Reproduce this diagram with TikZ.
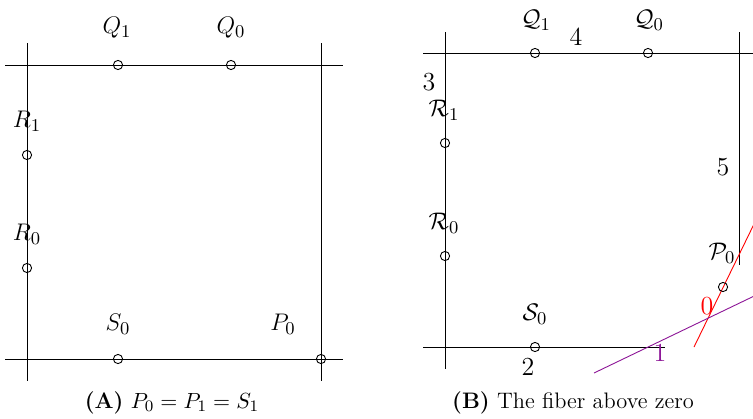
\documentclass[tikz,border=0pt]{standalone}
\usepackage{amsmath,amssymb}
\usepackage{tikz}
\usetikzlibrary{positioning}
\definecolor{zerocol}{RGB}{255,0,0}
\definecolor{onecol}{RGB}{140,20,150}
\tikzset{
  edge/.style={line width=0.45pt, draw=black},
  zeroline/.style={line width=0.45pt, draw=zerocol},
  oneline/.style={line width=0.45pt, draw=onecol},
  dotmark/.style={circle, draw, line width=0.45pt, inner sep=0pt, minimum size=4.6pt},
  ptlabel/.style={inner sep=0pt, font=\fontsize{13}{15}\selectfont},
  caption/.style={inner sep=0pt, font=\fontsize{11.2}{13}\selectfont}
}

\begin{document}
\begin{tikzpicture}[x=0.5pt,y=-0.5pt]
  \useasboundingbox (0,0) rectangle (753,418);
  \clip (0,0) rectangle (753,418);

  % (A) the four fibre lines
  \coordinate (aT-w) at (5,65);    \coordinate (aT-e) at (343,65);
  \coordinate (aB-w) at (5,359);   \coordinate (aB-e) at (343,359);
  \coordinate (aL-n) at (27,43);   \coordinate (aL-s) at (27,381);
  \coordinate (aR-n) at (321,43);  \coordinate (aR-s) at (321,381);
  \draw[edge] (aT-w) -- (aT-e);
  \draw[edge] (aB-w) -- (aB-e);
  \draw[edge] (aL-n) -- (aL-s);
  \draw[edge] (aR-n) -- (aR-s);

  \foreach \n/\x/\y in {aQ1/118/65, aQ0/231/65, aR1/27/155, aR0/27/268, aS0/118/359, aP0/321/359}
    \node[dotmark] (\n) at (\x,\y) {};

  \foreach \n/\x/\y/\t in {
      lQ1/117/28/{$Q_1$},
      lQ0/231/28/{$Q_0$},
      lR1/27/121/{$R_1$},
      lR0/27/234/{$R_0$},
      lS0/118/324/{$S_0$},
      lP0/283/324/{$P_0$}}
    \node[ptlabel] (\n) at (\x,\y) {\t};

  \node[caption] (capA) at (172,403) {\textbf{(A)} $P_0=P_1=S_1$};

  % (B) the fiber above zero
  \coordinate (bT-w) at (423,53);  \coordinate (bT-e) at (770,53);
  \coordinate (bB-w) at (423,347); \coordinate (bB-e) at (665,347);
  \coordinate (bL-n) at (445,32);  \coordinate (bL-s) at (445,369);
  \coordinate (bR-n) at (739,32);  \coordinate (bR-s) at (739,265);
  \draw[edge] (bT-w) -- (bT-e);
  \draw[edge] (bB-w) -- (bB-e);
  \draw[edge] (bL-n) -- (bL-s);
  \draw[edge] (bR-n) -- (bR-s);

  \coordinate (zero-s) at (694,347);  \coordinate (zero-n) at (775,181);
  \coordinate (one-w) at (594,373);   \coordinate (one-e) at (775,286);
  \draw[zeroline] (zero-s) -- (zero-n);
  \draw[oneline] (one-w) -- (one-e);

  \foreach \n/\x/\y in {bQ1/535/53, bQ0/648/53, bR1/445/143, bR0/445/256, bS0/535/347, bP0/723/287}
    \node[dotmark] (\n) at (\x,\y) {};

  \foreach \n/\x/\y/\t in {
      mQ1/536/20/{$\mathcal{Q}_1$},
      mQ0/649/20/{$\mathcal{Q}_0$},
      mR1/444/110/{$\mathcal{R}_1$},
      mR0/444/223/{$\mathcal{R}_0$},
      mS0/535/314/{$\mathcal{S}_0$},
      mP0/722/253/{$\mathcal{P}_0$},
      m2/528/367/{2},
      m3/429/82/{3},
      m4/576/37/{4},
      m5/723/167/{5}}
    \node[ptlabel] (\n) at (\x,\y) {\t};
  \node[ptlabel, text=zerocol] (m0) at (707,306) {0};
  \node[ptlabel, text=onecol] (m1) at (660,353) {1};

  \node[caption] (capB) at (573,403) {\textbf{(B)} The fiber above zero};
\end{tikzpicture}
\end{document}
